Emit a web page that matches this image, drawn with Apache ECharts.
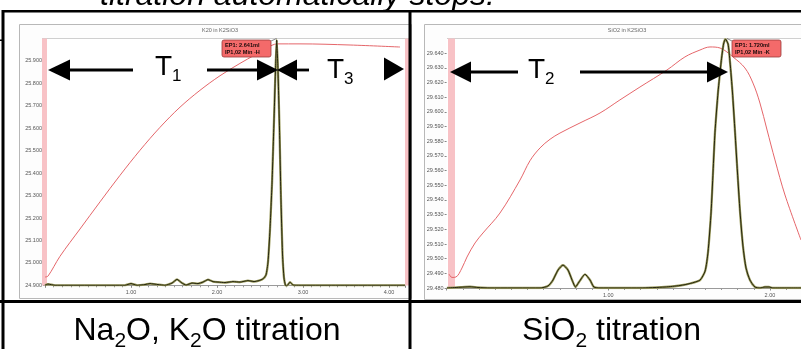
<!DOCTYPE html>
<html><head><meta charset="utf-8">
<script src="https://cdn.jsdelivr.net/npm/echarts@6/dist/echarts.min.js"></script>
<style>html,body{margin:0;padding:0;background:#fff}#c{width:801px;height:349px}</style>
</head><body><div id="c"></div>
<script>
// ---------- data ----------
const pageTitle = 'titration automatically stops.';
const leftTitle = 'K20 in K2SiO3';
const rightTitle = 'SiO2 in K2SiO3';
const leftEP = ['EP1: 2.641ml', 'IP1,02 Min -H'];
const rightEP = ['EP1: 1.720ml', 'IP1,02 Min -K'];
const leftCaption = [['Na', 0], ['2', 1], ['O, K', 0], ['2', 1], ['O titration', 0]];
const rightCaption = [['SiO', 0], ['2', 1], [' titration', 0]];
const leftYRange = [24.9, 26.0, 0.1];
const rightYRange = [29.48, 29.65, 0.01];
const leftXMax = 4.186;
const rightXMax = 2.192;

// potential curve (volume ml, potential)
const leftCurve = [[0,24.937],[0.035,24.941],[0.174,25.029],[0.407,25.151],[0.640,25.272],[0.872,25.390],[1.105,25.502],[1.337,25.604],[1.570,25.694],[1.802,25.769],[2.035,25.834],[2.267,25.889],[2.442,25.927],[2.558,25.952],[2.640,25.970],[2.700,25.976],[2.965,25.976],[3.547,25.971],[4.128,25.962]];
// first derivative (relative 0-100)
const leftDeriv = [[0,0],[0.035,0.5],[0.116,0],[0.93,0],[1.0,0.7],[1.07,0],[1.163,0.3],[1.221,0.7],[1.314,0.3],[1.395,0],[1.477,0.9],[1.535,2.4],[1.593,0.9],[1.64,0.1],[1.709,0.9],[1.779,0.7],[1.837,1.3],[1.895,2.3],[1.953,1.5],[2.012,1.3],[2.093,1.1],[2.186,1.5],[2.267,1.3],[2.36,1.9],[2.43,1.5],[2.488,1.9],[2.535,2.6],[2.57,4.2],[2.593,9.4],[2.616,22.4],[2.64,41.5],[2.663,67],[2.68,87.2],[2.694,99.4],[2.709,87.2],[2.727,62.9],[2.744,34.5],[2.762,12.3],[2.779,3.0],[2.797,-0.1],[2.814,-0.2],[2.849,1.3],[2.884,0.1],[2.965,0],[4.186,0]];

const rightCurve = [[0.015,29.4895],[0.033,29.4872],[0.058,29.4875],[0.095,29.4936],[0.126,29.5011],[0.176,29.5107],[0.225,29.5175],[0.330,29.5311],[0.454,29.5536],[0.516,29.5668],[0.578,29.5755],[0.640,29.5814],[0.701,29.5856],[0.825,29.5925],[0.949,29.5993],[1.072,29.6082],[1.196,29.6170],[1.363,29.6286],[1.474,29.6375],[1.567,29.6422],[1.629,29.6443],[1.691,29.6436],[1.771,29.6375],[1.845,29.6300],[1.895,29.6197],[1.938,29.6061],[1.982,29.5877],[2.031,29.5673],[2.093,29.5434],[2.192,29.5127]];
const rightDeriv = [[0.002,0],[0.083,0.3],[0.145,0.5],[0.194,0.2],[0.268,0],[0.578,0],[0.627,0.8],[0.658,3.2],[0.689,7.2],[0.720,9.2],[0.751,7.2],[0.776,3.2],[0.797,0.4],[0.819,2.4],[0.856,5.5],[0.887,3.2],[0.911,0.4],[0.949,0],[1.196,0],[1.351,0.4],[1.444,1.0],[1.506,1.8],[1.568,3.2],[1.599,6.8],[1.617,14.4],[1.636,30.5],[1.648,46.5],[1.660,62.5],[1.679,78.6],[1.698,90.6],[1.713,97.8],[1.725,99.8],[1.741,97.8],[1.753,90.6],[1.768,78.6],[1.784,62.5],[1.799,46.5],[1.815,30.5],[1.833,16.8],[1.852,8.0],[1.876,3.2],[1.907,0.4],[1.938,0],[1.969,0.4],[1.994,0.4],[2.018,0],[2.192,0]];

// ---------- helpers ----------
const FF = '"Liberation Sans", Arial, sans-serif';
const cv = document.createElement('canvas').getContext('2d');
function tw(t, size, st) { cv.font = (st || '') + ' ' + size + 'px ' + FF; return cv.measureText(t).width; }
function txt(t, x, baseline, size, opt) {
  opt = opt || {};
  return { type: 'text', z: opt.z || 100, style: {
    text: t, x: x, y: baseline - size * 0.3465, font: (opt.st || '') + ' ' + size + 'px ' + FF,
    fill: opt.fill || '#000', align: opt.align || 'left', verticalAlign: 'middle',
    textAlign: opt.align || 'left', textVerticalAlign: 'middle' } };
}
function subText(parts, cx, baseline, size, subSize, subDy, center) {
  const ws = parts.map(p => tw(p[0], p[1] ? subSize : size));
  const total = ws.reduce((a, b) => a + b, 0);
  let x = center ? cx - total / 2 : cx;
  const out = [];
  parts.forEach((p, i) => {
    out.push(txt(p[0], x, baseline + (p[1] ? subDy : 0), p[1] ? subSize : size));
    x += ws[i];
  });
  return out;
}
function rect(x, y, w, h, fill, z, extra) {
  return Object.assign({ type: 'rect', z: z, shape: { x: x, y: y, width: w, height: h }, style: { fill: fill } }, extra || {});
}
function head(tipX, y, dir, len, half) {
  return { type: 'polygon', z: 100, shape: { points: [[tipX, y], [tipX - dir * len, y - half], [tipX - dir * len, y + half]] }, style: { fill: '#000' } };
}
function hline(x1, x2, y) { return rect(x1, y - 1.4, x2 - x1, 2.8, '#000', 100); }
function epBox(x, y, lines, px, py) {
  return [
    { type: 'line', z: 99, shape: { x1: x + (px > x ? 49 : 0), y1: y + 1, x2: px, y2: py }, style: { stroke: '#555', lineWidth: 0.7 } },
    { type: 'rect', z: 99, shape: { x: x, y: y, width: 49, height: 17, r: 2 }, style: { fill: '#f46a6a', stroke: '#9a3a3a', lineWidth: 0.8 } },
    txt(lines[0], x + 3, y + 7.3, 5.6, { st: 'bold', fill: '#1a0a0a' }),
    txt(lines[1], x + 3, y + 14, 5.6, { st: 'bold', fill: '#1a0a0a' })
  ];
}

// ---------- layout ----------
const L = { left: 45, top: 38.5, width: 360, height: 246.8 };
const R = { left: 446.6, top: 38.6, width: 354.4, height: 249.4 };

const graphics = [];
graphics.push(rect(19.5, 24.5, 392, 274, '#fdfdfd', 0, { style: { fill: '#fdfdfd', stroke: '#b8b8b8', lineWidth: 1 } }));
graphics.push(rect(424.5, 24.5, 380, 275, '#fdfdfd', 0, { style: { fill: '#fdfdfd', stroke: '#b8b8b8', lineWidth: 1 } }));
graphics.push(rect(L.left - 3, L.top, L.width + 3, L.height, '#fff', 0));
graphics.push(rect(R.left, R.top, R.width, R.height, '#fff', 0));
graphics.push({ type: 'line', z: 1, shape: { x1: 42, y1: 38.5, x2: 409, y2: 38.5 }, style: { stroke: '#cfcfcf', lineWidth: 1 } });
graphics.push({ type: 'line', z: 1, shape: { x1: 447, y1: 38.5, x2: 801, y2: 38.5 }, style: { stroke: '#cfcfcf', lineWidth: 1 } });
graphics.push(rect(42, 38.5, 5, 247, '#f8c2c6', 1));
graphics.push(rect(405, 38.5, 4, 247, '#f8c2c6', 1));
graphics.push(rect(448, 38.6, 7, 249.4, '#f8c2c6', 1));
graphics.push(txt(leftTitle, 220, 32, 5.5, { align: 'center', fill: '#666', z: 2 }));
graphics.push(txt(rightTitle, 627, 32, 5.5, { align: 'center', fill: '#666', z: 2 }));
epBox(222, 40, leftEP, 276.5, 38.5).forEach(g => graphics.push(g));
epBox(732, 40, rightEP, 727, 38.5).forEach(g => graphics.push(g));
graphics.push(head(48, 70, -1, 22, 10.5));
graphics.push(hline(69, 133, 70));
subText([['T', 0], ['1', 1]], 155, 77, 28, 17, 5, false).forEach(g => graphics.push(g));
graphics.push(hline(207, 259, 70));
graphics.push(head(278, 70, 1, 21, 10.5));
graphics.push(head(277, 70, -1, 20, 10.5));
graphics.push(hline(296, 309, 70));
graphics.push(rect(309, 48, 76, 49, '#fff', 98));
subText([['T', 0], ['3', 1]], 327, 80, 28, 17, 5, false).forEach(g => graphics.push(g));
graphics.push(head(404, 69, 1, 20, 11.5));
graphics.push(head(450, 72, -1, 21, 10.5));
graphics.push(hline(470, 518, 72));
subText([['T', 0], ['2', 1]], 528, 80, 28, 17, 5, false).forEach(g => graphics.push(g));
graphics.push(hline(580, 708, 72));
graphics.push(head(728, 72, 1, 21, 10.5));
graphics.push(rect(3, 10, 798, 2.6, '#000', 120));
graphics.push(rect(1.5, 10, 3, 339, '#000', 120));
graphics.push(rect(408.5, 10, 3, 339, '#000', 120));
graphics.push(rect(0, 300, 801, 3, '#000', 120));
graphics.push(rect(0, 39.5, 2, 1.5, '#000', 120));
graphics.push(txt(pageTitle, 100, 7, 32, { st: 'italic', z: 110 }));
subText(leftCaption, 207, 342, 32, 21, 6, true).forEach(g => graphics.push(g));
subText(rightCaption, 611.5, 342, 32, 21, 6, true).forEach(g => graphics.push(g));

// ---------- axes ----------
function xAx(grid, max) {
  return { type: 'value', gridIndex: grid, min: 0, max: max, interval: 1,
    axisLine: { show: true, lineStyle: { color: '#9a9a9a', width: 1 } },
    axisTick: { show: true, length: 2.5, lineStyle: { color: '#888' } },
    minorTick: { show: true, splitNumber: 10, length: 2, lineStyle: { color: '#999' } },
    splitLine: { show: false },
    axisLabel: { showMinLabel: false, showMaxLabel: false, margin: 4, fontSize: 5.5, color: '#555', fontFamily: FF,
      formatter: v => (v === 0 ? '' : v.toFixed(2)) } };
}
function yAx(grid, r) {
  return { type: 'value', gridIndex: grid, min: r[0], max: r[1], interval: r[2],
    axisLine: { show: false }, splitLine: { show: false },
    axisTick: { show: true, length: 2, lineStyle: { color: '#888' } },
    axisLabel: { showMaxLabel: false, margin: 3, fontSize: 5.5, color: '#555', fontFamily: FF, formatter: v => v.toFixed(3) } };
}
function hidY(grid) { return { type: 'value', gridIndex: grid, min: 0, max: 100, show: false }; }
function lineS(x, y, data, color, width, z, smooth) {
  return { type: 'line', xAxisIndex: x, yAxisIndex: y, data: data, symbol: 'none', smooth: smooth, z: z,
    lineStyle: { color: color, width: width }, silent: true, animation: false };
}

const chart = echarts.init(document.getElementById('c'), null, { renderer: 'canvas' });
chart.setOption({
  animation: false,
  grid: [Object.assign({ containLabel: false }, L), Object.assign({ containLabel: false }, R)],
  xAxis: [xAx(0, leftXMax), xAx(1, rightXMax)],
  yAxis: [yAx(0, leftYRange), hidY(0), yAx(1, rightYRange), hidY(1)],
  series: [
    lineS(0, 0, leftCurve, '#e5666a', 1, 3, 0.35),
    lineS(0, 1, leftDeriv, '#9a9a5c', 2.3, 4, 0.15),
    lineS(0, 1, leftDeriv, '#25250f', 1, 5, 0.15),
    lineS(1, 2, rightCurve, '#e5666a', 1, 3, 0.35),
    lineS(1, 3, rightDeriv, '#9a9a5c', 2.3, 4, 0.2),
    lineS(1, 3, rightDeriv, '#25250f', 1, 5, 0.2)
  ],
  graphic: { elements: graphics }
});
</script></body></html>
